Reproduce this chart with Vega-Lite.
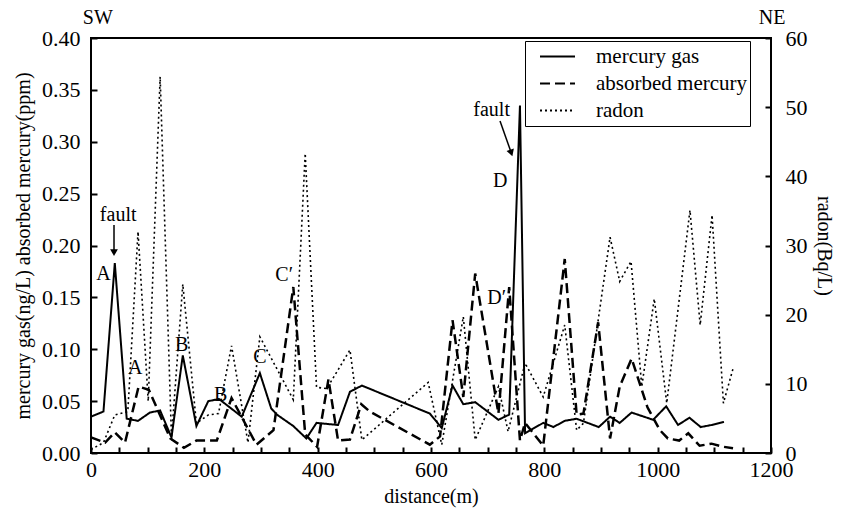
{
  "$schema": "https://vega.github.io/schema/vega-lite/v6.json",
  "width": 680,
  "height": 415,
  "autosize": "none",
  "padding": {"left": 91, "top": 38, "right": 78, "bottom": 56},
  "background": "white",
  "config": {
    "view": {"stroke": "black", "strokeWidth": 2},
    "font": "Liberation Serif, Times New Roman, serif",
    "axis": {
      "labelFont": "Liberation Serif, Times New Roman, serif", "labelFontSize": 22, "labelColor": "black",
      "titleFont": "Liberation Serif, Times New Roman, serif", "titleFontSize": 20, "titleFontWeight": "normal", "titleColor": "black",
      "grid": false
    },
    "text": {"font": "Liberation Serif, Times New Roman, serif", "fontSize": 20, "color": "black"}
  },
  "datasets": {
    "lines": [
      {"s": "mercury gas", "d": 0, "v": 0.035}, {"s": "mercury gas", "d": 22, "v": 0.040}, {"s": "mercury gas", "d": 42, "v": 0.183},
      {"s": "mercury gas", "d": 63, "v": 0.033}, {"s": "mercury gas", "d": 83, "v": 0.031}, {"s": "mercury gas", "d": 104, "v": 0.039},
      {"s": "mercury gas", "d": 122, "v": 0.041}, {"s": "mercury gas", "d": 142, "v": 0.015}, {"s": "mercury gas", "d": 162, "v": 0.094},
      {"s": "mercury gas", "d": 186, "v": 0.026}, {"s": "mercury gas", "d": 207, "v": 0.050}, {"s": "mercury gas", "d": 226, "v": 0.052},
      {"s": "mercury gas", "d": 266, "v": 0.035}, {"s": "mercury gas", "d": 298, "v": 0.077}, {"s": "mercury gas", "d": 318, "v": 0.043},
      {"s": "mercury gas", "d": 328, "v": 0.037}, {"s": "mercury gas", "d": 357, "v": 0.026}, {"s": "mercury gas", "d": 380, "v": 0.014},
      {"s": "mercury gas", "d": 398, "v": 0.029}, {"s": "mercury gas", "d": 436, "v": 0.027}, {"s": "mercury gas", "d": 457, "v": 0.059},
      {"s": "mercury gas", "d": 478, "v": 0.065}, {"s": "mercury gas", "d": 598, "v": 0.038}, {"s": "mercury gas", "d": 619, "v": 0.024},
      {"s": "mercury gas", "d": 638, "v": 0.065}, {"s": "mercury gas", "d": 657, "v": 0.047}, {"s": "mercury gas", "d": 678, "v": 0.049},
      {"s": "mercury gas", "d": 719, "v": 0.032}, {"s": "mercury gas", "d": 738, "v": 0.037}, {"s": "mercury gas", "d": 757, "v": 0.335},
      {"s": "mercury gas", "d": 766, "v": 0.019}, {"s": "mercury gas", "d": 798, "v": 0.029}, {"s": "mercury gas", "d": 816, "v": 0.025},
      {"s": "mercury gas", "d": 836, "v": 0.031}, {"s": "mercury gas", "d": 857, "v": 0.033}, {"s": "mercury gas", "d": 896, "v": 0.025},
      {"s": "mercury gas", "d": 916, "v": 0.035}, {"s": "mercury gas", "d": 933, "v": 0.029}, {"s": "mercury gas", "d": 954, "v": 0.039},
      {"s": "mercury gas", "d": 992, "v": 0.032}, {"s": "mercury gas", "d": 1015, "v": 0.045}, {"s": "mercury gas", "d": 1036, "v": 0.027},
      {"s": "mercury gas", "d": 1056, "v": 0.034}, {"s": "mercury gas", "d": 1076, "v": 0.025}, {"s": "mercury gas", "d": 1095, "v": 0.027},
      {"s": "mercury gas", "d": 1117, "v": 0.030},
      {"s": "absorbed mercury", "d": 0, "v": 0.015}, {"s": "absorbed mercury", "d": 25, "v": 0.010}, {"s": "absorbed mercury", "d": 42, "v": 0.020},
      {"s": "absorbed mercury", "d": 60, "v": 0.010}, {"s": "absorbed mercury", "d": 84, "v": 0.064}, {"s": "absorbed mercury", "d": 102, "v": 0.061},
      {"s": "absorbed mercury", "d": 140, "v": 0.014}, {"s": "absorbed mercury", "d": 164, "v": 0.005}, {"s": "absorbed mercury", "d": 186, "v": 0.012},
      {"s": "absorbed mercury", "d": 222, "v": 0.012}, {"s": "absorbed mercury", "d": 248, "v": 0.053}, {"s": "absorbed mercury", "d": 292, "v": 0.008},
      {"s": "absorbed mercury", "d": 322, "v": 0.022}, {"s": "absorbed mercury", "d": 357, "v": 0.160}, {"s": "absorbed mercury", "d": 378, "v": 0.018},
      {"s": "absorbed mercury", "d": 399, "v": 0.006}, {"s": "absorbed mercury", "d": 419, "v": 0.071}, {"s": "absorbed mercury", "d": 436, "v": 0.012},
      {"s": "absorbed mercury", "d": 457, "v": 0.013}, {"s": "absorbed mercury", "d": 477, "v": 0.047}, {"s": "absorbed mercury", "d": 492, "v": 0.040},
      {"s": "absorbed mercury", "d": 598, "v": 0.008}, {"s": "absorbed mercury", "d": 616, "v": 0.016}, {"s": "absorbed mercury", "d": 638, "v": 0.128},
      {"s": "absorbed mercury", "d": 657, "v": 0.054}, {"s": "absorbed mercury", "d": 678, "v": 0.173}, {"s": "absorbed mercury", "d": 719, "v": 0.038},
      {"s": "absorbed mercury", "d": 738, "v": 0.160}, {"s": "absorbed mercury", "d": 757, "v": 0.012}, {"s": "absorbed mercury", "d": 766, "v": 0.029},
      {"s": "absorbed mercury", "d": 798, "v": 0.007}, {"s": "absorbed mercury", "d": 836, "v": 0.187}, {"s": "absorbed mercury", "d": 857, "v": 0.037},
      {"s": "absorbed mercury", "d": 869, "v": 0.038}, {"s": "absorbed mercury", "d": 895, "v": 0.126}, {"s": "absorbed mercury", "d": 916, "v": 0.014},
      {"s": "absorbed mercury", "d": 933, "v": 0.064}, {"s": "absorbed mercury", "d": 954, "v": 0.091}, {"s": "absorbed mercury", "d": 982, "v": 0.044},
      {"s": "absorbed mercury", "d": 1004, "v": 0.022}, {"s": "absorbed mercury", "d": 1018, "v": 0.014}, {"s": "absorbed mercury", "d": 1038, "v": 0.012},
      {"s": "absorbed mercury", "d": 1054, "v": 0.019}, {"s": "absorbed mercury", "d": 1074, "v": 0.007}, {"s": "absorbed mercury", "d": 1095, "v": 0.009},
      {"s": "absorbed mercury", "d": 1116, "v": 0.006}, {"s": "absorbed mercury", "d": 1133, "v": 0.0045}
    ],
    "radon": [
      {"s": "radon", "d": 0, "v": 0.5}, {"s": "radon", "d": 22, "v": 1.5}, {"s": "radon", "d": 42, "v": 5.5}, {"s": "radon", "d": 65, "v": 6.0},
      {"s": "radon", "d": 83, "v": 32.0}, {"s": "radon", "d": 101, "v": 7.5}, {"s": "radon", "d": 122, "v": 54.4}, {"s": "radon", "d": 142, "v": 2.2},
      {"s": "radon", "d": 162, "v": 24.4}, {"s": "radon", "d": 186, "v": 4.3}, {"s": "radon", "d": 207, "v": 5.5}, {"s": "radon", "d": 225, "v": 5.7},
      {"s": "radon", "d": 248, "v": 15.5}, {"s": "radon", "d": 277, "v": 1.5}, {"s": "radon", "d": 298, "v": 16.8}, {"s": "radon", "d": 357, "v": 7.7},
      {"s": "radon", "d": 378, "v": 43.3}, {"s": "radon", "d": 398, "v": 9.5}, {"s": "radon", "d": 416, "v": 9.3}, {"s": "radon", "d": 457, "v": 14.9},
      {"s": "radon", "d": 478, "v": 1.9}, {"s": "radon", "d": 595, "v": 10.2}, {"s": "radon", "d": 619, "v": 1.2}, {"s": "radon", "d": 657, "v": 19.7},
      {"s": "radon", "d": 678, "v": 1.9}, {"s": "radon", "d": 719, "v": 9.6}, {"s": "radon", "d": 736, "v": 3.1}, {"s": "radon", "d": 766, "v": 13.0},
      {"s": "radon", "d": 798, "v": 8.1}, {"s": "radon", "d": 836, "v": 18.5}, {"s": "radon", "d": 857, "v": 3.3}, {"s": "radon", "d": 869, "v": 4.3},
      {"s": "radon", "d": 916, "v": 31.2}, {"s": "radon", "d": 933, "v": 24.8}, {"s": "radon", "d": 953, "v": 27.7}, {"s": "radon", "d": 972, "v": 9.6},
      {"s": "radon", "d": 994, "v": 22.3}, {"s": "radon", "d": 1016, "v": 7.2}, {"s": "radon", "d": 1057, "v": 35.1}, {"s": "radon", "d": 1075, "v": 18.5},
      {"s": "radon", "d": 1096, "v": 34.4}, {"s": "radon", "d": 1116, "v": 7.2}, {"s": "radon", "d": 1133, "v": 12.2}
    ],
    "notes": [
      {"t": "SW", "d": 12, "v": 0.419},
      {"t": "NE", "d": 1202, "v": 0.419},
      {"t": "fault", "d": 48, "v": 0.229},
      {"t": "A", "d": 22, "v": 0.173},
      {"t": "A", "d": 78, "v": 0.082},
      {"t": "B", "d": 160, "v": 0.104},
      {"t": "B", "d": 229, "v": 0.056},
      {"t": "C", "d": 298, "v": 0.093},
      {"t": "C′", "d": 341, "v": 0.172},
      {"t": "fault", "d": 707, "v": 0.331},
      {"t": "D", "d": 722, "v": 0.262},
      {"t": "D′", "d": 716, "v": 0.149}
    ],
    "arrows": [
      {"d": 40.6, "v": 0.2198, "d2": 40.6, "v2": 0.1932, "a": 180},
      {"d": 721.8, "v": 0.320, "d2": 741.7, "v2": 0.2892, "a": 161}
    ]
  },
  "encoding": {
    "x": {
      "field": "d", "type": "quantitative",
      "scale": {"domain": [0, 1200], "nice": false, "zero": false},
      "axis": {
        "title": "distance(m)",
        "values": [0, 50, 100, 150, 200, 250, 300, 350, 400, 450, 500, 550, 600, 650, 700, 750, 800, 850, 900, 950, 1000, 1050, 1100, 1150, 1200],
        "format": "d",
        "labelExpr": "datum.value % 200 === 0 ? datum.label : ''",
        "domain": false, "offset": -6, "zindex": 1,
        "ticks": true, "tickColor": "black", "tickSize": 6, "tickWidth": 2,
        "labelPadding": 6, "labelOverlap": false, "labelFlush": false, "labelBound": false,
        "titlePadding": 6
      }
    }
  },
  "layer": [
    {
      "encoding": {
        "y": {
          "field": "v", "type": "quantitative",
          "scale": {"domain": [0, 0.4], "nice": false},
          "axis": {
            "title": "mercury gas(ng/L)  absorbed mercury(ppm)",
            "values": [0, 0.05, 0.1, 0.15, 0.2, 0.25, 0.3, 0.35, 0.4],
            "format": ".2f",
            "domain": false, "offset": -6, "zindex": 1,
            "ticks": true, "tickColor": "black", "tickSize": 6, "tickWidth": 2,
            "labelPadding": 11, "labelOverlap": false,
            "titlePadding": 8
          }
        }
      },
      "layer": [
        {
          "data": {"name": "lines"},
          "transform": [{"filter": "datum.s === 'mercury gas'"}],
          "mark": {"type": "line", "color": "black", "strokeWidth": 2},
          "encoding": {
            "strokeDash": {
              "field": "s", "type": "nominal",
              "scale": {"domain": ["mercury gas", "absorbed mercury", "radon"], "range": [[1, 0], [10, 5], [2, 3]]},
              "legend": {
                "orient": "none", "legendX": 434, "legendY": 3, "title": null,
                "strokeColor": "black", "fillColor": "white", "padding": 2,
                "symbolType": "stroke", "symbolSize": 1225, "clipHeight": 27, "symbolStrokeWidth": 2, "symbolStrokeColor": "black",
                "symbolOffset": 12,
                "labelFont": "Liberation Serif, Times New Roman, serif", "labelFontSize": 21, "labelColor": "black",
                "rowPadding": 0, "labelOffset": 20
              }
            }
          }
        },
        {
          "data": {"name": "lines"},
          "transform": [{"filter": "datum.s === 'absorbed mercury'"}],
          "mark": {"type": "line", "color": "black", "strokeWidth": 2.5},
          "encoding": {
            "strokeDash": {
              "field": "s", "type": "nominal",
              "scale": {"domain": ["mercury gas", "absorbed mercury", "radon"], "range": [[1, 0], [10, 5], [2, 3]]}
            }
          }
        },
        {
          "data": {"name": "notes"},
          "mark": {"type": "text", "align": "center", "baseline": "middle"},
          "encoding": {"text": {"field": "t"}}
        },
        {
          "data": {"name": "arrows"},
          "mark": {"type": "rule", "color": "black", "strokeWidth": 1.5},
          "encoding": {"x2": {"field": "d2"}, "y2": {"field": "v2"}}
        },
        {
          "data": {"name": "arrows"},
          "mark": {"type": "point", "shape": "triangle-up", "filled": true, "color": "black", "size": 60, "opacity": 1},
          "encoding": {
            "x": {"field": "d2", "type": "quantitative"},
            "y": {"field": "v2", "type": "quantitative"},
            "angle": {"field": "a", "type": "quantitative", "scale": null}
          }
        }
      ]
    },
    {
      "data": {"name": "radon"},
      "mark": {"type": "line", "color": "black", "strokeWidth": 1.6},
      "encoding": {
        "y": {
          "field": "v", "type": "quantitative",
          "scale": {"domain": [0, 60], "nice": false},
          "axis": {
            "orient": "right",
            "title": "radon(Bq/L)",
            "values": [0, 10, 20, 30, 40, 50, 60],
            "domain": false, "offset": -6, "zindex": 1,
            "ticks": true, "tickColor": "black", "tickSize": 6, "tickWidth": 2,
            "labelPadding": 14, "labelOverlap": false,
            "titlePadding": 6
          }
        },
        "strokeDash": {
          "field": "s", "type": "nominal",
          "scale": {"domain": ["mercury gas", "absorbed mercury", "radon"], "range": [[1, 0], [10, 5], [2, 3]]}
        }
      }
    }
  ],
  "resolve": {"scale": {"y": "independent"}}
}
